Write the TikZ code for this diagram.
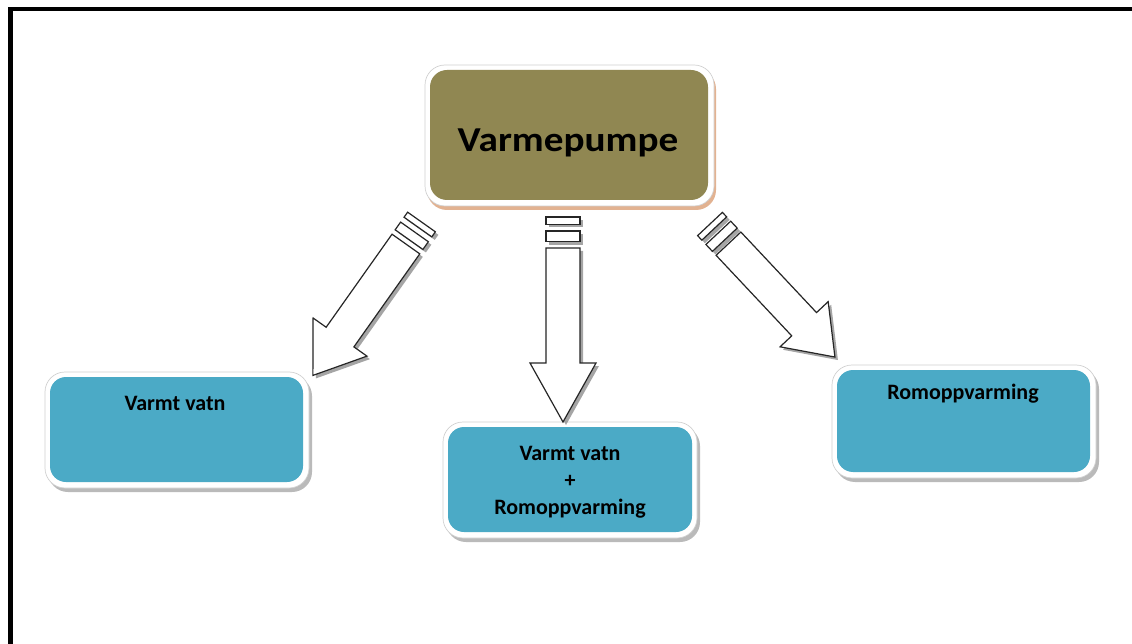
\documentclass[tikz,border=0pt]{standalone}
\usepackage{fontspec}
\setmainfont{Carlito}
\usetikzlibrary{shadows}
\definecolor{olivebox}{RGB}{144,135,82}
\definecolor{bluebox}{RGB}{75,170,198}
\definecolor{tanshadow}{RGB}{226,178,145}
\newcommand\stripedarrow[7]{%
  % #1 name, #2 x, #3 y, #4 rotation, #5 length, #6 head length, #7 shaft start
  \begin{scope}[shift={(#2+3,#3+3)}, rotate=#4]
    \fill[black!50, opacity=.7] (-17,0) rectangle (17,0.23*#7);
    \fill[black!50, opacity=.7] (-17,0.45*#7) rectangle (17,0.8*#7);
    \fill[black!50, opacity=.7] (-17,#7) -- (-17,#5-#6) -- (-33,#5-#6) -- (0,#5) -- (33,#5-#6) -- (17,#5-#6) -- (17,#7) -- cycle;
  \end{scope}
  \begin{scope}[shift={(#2,#3)}, rotate=#4]
    \coordinate (#1-start) at (0,0);
    \coordinate (#1-tip) at (0,#5);
    \draw[arrowline] (-17,0) rectangle (17,0.23*#7);
    \draw[arrowline] (-17,0.45*#7) rectangle (17,0.8*#7);
    \draw[arrowline] (-17,#7) -- (-17,#5-#6) -- (-33,#5-#6) -- (0,#5) -- (33,#5-#6) -- (17,#5-#6) -- (17,#7) -- cycle;
  \end{scope}}
\begin{document}
\begin{tikzpicture}[x=1pt,y=-1pt,
  ring/.style={draw=black!18, line width=0.7pt, fill=white, rounded corners=20pt, inner sep=0pt, outer sep=0pt},
  bluering/.style={ring, drop shadow={shadow xshift=3pt, shadow yshift=-4pt, fill=black!45, opacity=.6}},
  tanring/.style={ring, drop shadow={shadow xshift=2pt, shadow yshift=-4pt, fill=tanshadow, opacity=1}},
  innerblue/.style={fill=bluebox, rounded corners=16pt, inner sep=0pt, outer sep=0pt},
  innerolive/.style={fill=olivebox, rounded corners=17pt, inner sep=0pt, outer sep=0pt},
  boxtext/.style={font=\fontsize{22}{27}\selectfont\bfseries, text=black, align=center, inner sep=0pt},
  arrowline/.style={draw=black!85, line width=1.2pt, fill=white, line join=miter}]
\useasboundingbox (0,0) rectangle (1132,644);
\fill[white] (0,0) rectangle (1132,644);
% frame
\draw[line width=4.5pt, line cap=butt] (10.5,644) -- (10.5,9) -- (1132,9);
% top box
\node[tanring, minimum width=289pt, minimum height=141pt] (vp-ring) at (569.5,135.5) {};
\node[innerolive, minimum width=278pt, minimum height=130pt] (vp) at (569,135) {};
\node[font=\fontsize{35}{40}\selectfont\bfseries, inner sep=0pt] (vp-text) at (568,143) {\scalebox{1.12}[1]{Varmepumpe}};
% left box
\node[bluering, minimum width=264pt, minimum height=116pt] (vv-ring) at (177,430) {};
\node[innerblue, minimum width=253pt, minimum height=105pt] (vv) at (176.5,429.5) {};
\node[boxtext] (vv-text) at (175,403) {Varmt vatn};
% middle box
\node[bluering, minimum width=254pt, minimum height=116pt] (vr-ring) at (570,480) {};
\node[innerblue, minimum width=244pt, minimum height=105pt] (vr) at (570,479.5) {};
\node[boxtext] (vr-text) at (570,482.5) {Varmt vatn\\+\\Romoppvarming};
% right box
\node[bluering, minimum width=264pt, minimum height=113pt] (ro-ring) at (964,421.5) {};
\node[innerblue, minimum width=253pt, minimum height=102pt] (ro) at (963.5,421) {};
\node[boxtext] (ro-text) at (963,394) {Romoppvarming};
% arrows
\stripedarrow{aleft}{421.5}{222}{-35.3}{188}{47}{27}
\stripedarrow{amid}{563}{217}{0}{205}{59}{31}
\stripedarrow{aright}{710}{224}{43.2}{182.5}{45}{27}
\end{tikzpicture}
\end{document}
